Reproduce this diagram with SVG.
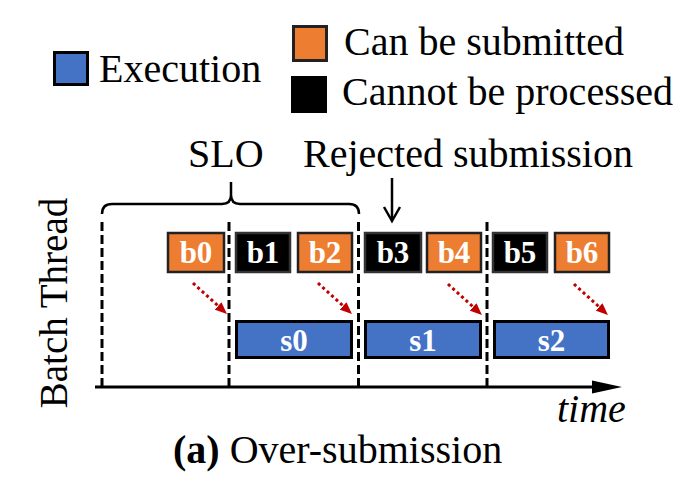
<svg xmlns="http://www.w3.org/2000/svg" width="690" height="488" viewBox="0 0 690 488">
<style>
text{font-family:"Liberation Serif","Times New Roman",serif;fill:#000}
.lbl{font-size:40px}
.bx{font-size:31px;font-weight:bold;fill:#fff;text-anchor:middle}
.org{fill:#ED7D31;stroke:#222;stroke-width:2.5}
.blk{fill:#000;stroke:#333;stroke-width:2.5}
.exe{fill:#4472C4;stroke:#000;stroke-width:3}
.dash{stroke:#000;stroke-width:3;stroke-dasharray:9,4;fill:none}
.red{stroke:#C00000;stroke-width:3;stroke-dasharray:3,3;fill:none}
</style>
<defs>
<marker id="rh" markerUnits="userSpaceOnUse" markerWidth="12" markerHeight="10" refX="0" refY="5" orient="auto" viewBox="0 0 12 10">
<path d="M0,0 L12,5 L0,10 z" fill="#C00000"/>
</marker>
</defs>
<rect width="690" height="488" fill="#fff"/>

<g id="legend">
<g id="legend-execution">
<rect class="exe" x="54.5" y="52.5" width="33" height="32"/>
<text class="lbl" x="99" y="82">Execution</text>
</g>
<g id="legend-submitted">
<rect x="293.5" y="26.5" width="33" height="34" fill="#ED7D31" stroke="#222" stroke-width="3"/>
<text class="lbl" x="344" y="55">Can be submitted</text>
</g>
<g id="legend-cannot">
<rect x="291" y="76" width="36" height="37" fill="#000"/>
<text class="lbl" x="342" y="105">Cannot be processed</text>
</g>
</g>

<g id="annotations">
<text class="lbl" x="188" y="167">SLO</text>
<text class="lbl" x="303" y="167">Rejected submission</text>
<path id="slo-brace" d="M102,214 Q102,204 112,204 L222,204 Q231,204 231,195 L231,182 M231,195 Q231,204 240,204 L349,204 Q359,204 359,214" fill="none" stroke="#000" stroke-width="2.5"/>
<text class="lbl" font-size="39" transform="translate(67,303) rotate(-90)" text-anchor="middle" style="font-size:39px">Batch Thread</text>
<text class="lbl" x="557" y="422" font-style="italic">time</text>
<text class="lbl" x="173" y="463"><tspan font-weight="bold">(a)</tspan> Over-submission</text>
</g>

<g id="timeline">
<line class="dash" x1="102" y1="222" x2="102" y2="387"/>
<line class="dash" x1="229" y1="222" x2="229" y2="387"/>
<line class="dash" x1="358.5" y1="222" x2="358.5" y2="387"/>
<line class="dash" x1="487" y1="222" x2="487" y2="387"/>
<line x1="95" y1="387" x2="596" y2="387" stroke="#000" stroke-width="3"/>
<polygon points="592,380.5 622,387 592,393.5" fill="#000"/>
</g>

<g id="b0"><rect class="org" x="168" y="233" width="56" height="39"/><text class="bx" x="196" y="263">b0</text></g>
<g id="b1"><rect class="blk" x="236" y="233" width="54" height="39"/><text class="bx" x="263" y="263">b1</text></g>
<g id="b2"><rect class="org" x="298" y="233" width="54" height="39"/><text class="bx" x="325" y="263">b2</text></g>
<g id="b3"><rect class="blk" x="365" y="233" width="56" height="39"/><text class="bx" x="393" y="263">b3</text></g>
<g id="b4"><rect class="org" x="427" y="233" width="54" height="39"/><text class="bx" x="454" y="263">b4</text></g>
<g id="b5"><rect class="blk" x="493" y="233" width="54" height="39"/><text class="bx" x="520" y="263">b5</text></g>
<g id="b6"><rect class="org" x="555" y="233" width="54" height="39"/><text class="bx" x="582" y="263">b6</text></g>

<g id="s0"><rect class="exe" x="236.5" y="321.5" width="115" height="36"/><text class="bx" x="294" y="351">s0</text></g>
<g id="s1"><rect class="exe" x="365.5" y="321.5" width="115" height="36"/><text class="bx" x="423" y="351">s1</text></g>
<g id="s2"><rect class="exe" x="494.5" y="321.5" width="114" height="36"/><text class="bx" x="551.5" y="351">s2</text></g>

<g id="connectors">
<line class="red" x1="193" y1="283" x2="218.1" y2="305.9" marker-end="url(#rh)"/>
<line class="red" x1="318" y1="283" x2="343.1" y2="305.9" marker-end="url(#rh)"/>
<line class="red" x1="448" y1="284" x2="473.1" y2="306.9" marker-end="url(#rh)"/>
<line class="red" x1="574" y1="284" x2="599.1" y2="306.9" marker-end="url(#rh)"/>
<g id="rejected-arrow" stroke="#000" stroke-width="2.5" fill="none">
<line x1="392" y1="178" x2="392" y2="220"/>
<polyline points="384,207 392,221 400,207"/>
</g>
</g>
</svg>
